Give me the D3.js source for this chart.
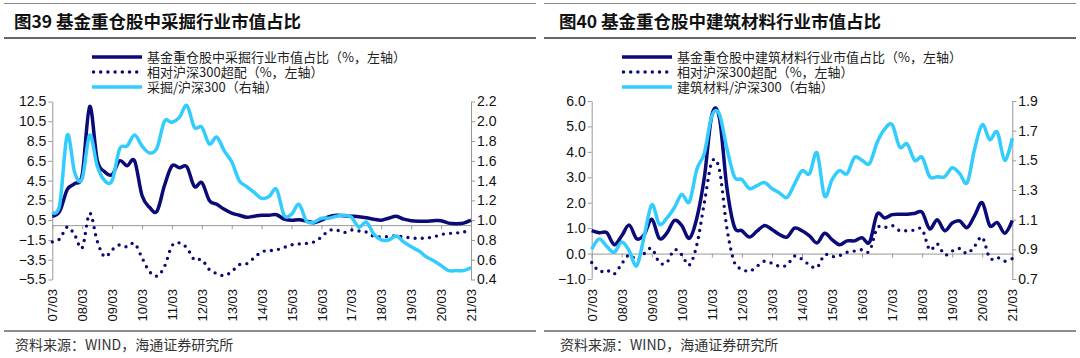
<!DOCTYPE html>
<html><head><meta charset="utf-8">
<script src="https://cdn.jsdelivr.net/npm/d3@7/dist/d3.min.js"></script>
<style>
body{margin:0;background:#fff;}
svg{display:block;}
</style></head>
<body><svg id="c" width="1080" height="358"></svg>
<script>
// ---- data ----
const quarters = ["07/03","07/06","07/09","07/12","08/03","08/06","08/09","08/12","09/03","09/06","09/09","09/12",
"10/03","10/06","10/09","10/12","11/03","11/06","11/09","11/12","12/03","12/06","12/09","12/12",
"13/03","13/06","13/09","13/12","14/03","14/06","14/09","14/12","15/03","15/06","15/09","15/12",
"16/03","16/06","16/09","16/12","17/03","17/06","17/09","17/12","18/03","18/06","18/09","18/12",
"19/03","19/06","19/09","19/12","20/03","20/06","20/09","20/12","21/03"];
const yearTicks = ["07/03","08/03","09/03","10/03","11/03","12/03","13/03","14/03","15/03","16/03","17/03","18/03","19/03","20/03","21/03"];

// Chart 39: mining
const miningShare = [0.9,1.4,3.6,4.2,5.1,12.0,6.6,5.4,5.1,6.5,6.0,6.5,3.0,1.8,1.4,4.0,6.0,5.8,5.9,3.9,4.3,2.5,2.1,1.6,
1.2,1.0,0.8,0.9,1.0,1.0,1.05,0.6,0.5,0.55,0.4,0.25,0.5,0.85,1.0,0.95,0.9,0.85,0.75,0.6,0.5,0.7,0.9,0.6,
0.45,0.4,0.4,0.45,0.45,0.2,0.15,0.2,0.5];
const miningOver = [-1.7,-1.4,-0.2,-1.0,-2.3,1.2,-1.6,-3.2,-2.5,-2.0,-2.2,-1.85,-3.3,-4.7,-5.15,-4.2,-2.1,-1.8,-2.3,-3.5,-3.5,-4.5,-4.9,-5.1,
-4.7,-4.0,-3.9,-3.3,-2.7,-2.6,-2.5,-2.25,-2.0,-1.9,-1.85,-1.7,-1.2,-0.55,-0.5,-0.75,-0.5,-0.6,-0.7,-1.15,-1.2,-1.15,-1.1,-1.2,
-1.3,-1.35,-1.3,-1.2,-0.95,-0.85,-0.8,-0.7,-0.45];
const miningRel = [1.08,1.16,1.86,1.48,1.42,1.86,1.55,1.40,1.40,1.72,1.75,1.86,1.75,1.68,1.73,2.00,1.99,2.04,2.16,1.94,1.94,1.77,1.84,1.70,
1.59,1.40,1.34,1.28,1.22,1.24,1.31,1.05,1.06,1.16,0.99,0.98,1.02,1.02,1.04,1.05,1.03,0.93,0.98,0.86,0.80,0.80,0.84,0.78,
0.73,0.69,0.63,0.59,0.54,0.49,0.49,0.49,0.52];

// Chart 40: building materials
const buildShare = [0.9,0.82,0.82,0.35,0.7,1.12,0.58,0.75,1.35,0.6,0.8,1.3,1.1,0.6,1.4,3.0,5.45,5.35,2.6,1.05,0.9,0.65,0.88,1.1,
0.95,0.75,0.65,1.0,0.9,0.7,0.42,0.8,0.55,0.35,0.5,0.5,0.62,0.45,1.55,1.4,1.53,1.55,1.55,1.58,1.62,0.97,1.33,0.9,
1.2,1.28,1.02,1.5,2.0,1.1,1.22,0.8,1.3];
const buildOver = [-0.35,-0.7,-0.65,-0.8,-0.4,-0.05,-0.25,0.0,0.2,-0.35,-0.35,0.15,-0.05,-0.45,0.35,2.0,3.6,3.3,1.0,-0.35,-0.6,-0.7,-0.5,-0.3,
-0.38,-0.5,-0.45,-0.1,-0.22,-0.45,-0.55,-0.05,-0.12,-0.08,0.05,0.1,0.15,0.1,1.0,1.02,1.1,0.9,0.9,0.92,0.95,0.15,0.38,-0.05,
0.1,0.2,0.0,0.3,0.64,-0.18,-0.15,-0.3,-0.2];
const buildRel = [0.90,0.97,0.92,0.88,0.95,0.89,0.79,0.99,1.20,1.07,1.11,1.18,1.27,1.22,1.44,1.55,1.80,1.81,1.58,1.39,1.37,1.31,1.33,1.35,
1.31,1.28,1.25,1.34,1.43,1.41,1.55,1.26,1.37,1.43,1.41,1.52,1.50,1.48,1.62,1.71,1.74,1.59,1.61,1.50,1.52,1.39,1.39,1.39,
1.45,1.41,1.35,1.58,1.74,1.64,1.69,1.50,1.65];

const ticksL39 = [-5.5,-3.5,-1.5,0.5,2.5,4.5,6.5,8.5,10.5,12.5];
const ticksR39 = [0.4,0.6,0.8,1.0,1.2,1.4,1.6,1.8,2.0,2.2];
const ticksL40 = [-1,0,1,2,3,4,5,6];
const ticksR40 = [0.7,0.9,1.1,1.3,1.5,1.7,1.9];

const titles = ["图39 基金重仓股中采掘行业市值占比","图40 基金重仓股中建筑材料行业市值占比"];
const legend39 = ["基金重仓股中采掘行业市值占比（%，左轴）","相对沪深300超配（%，左轴）","采掘/沪深300（右轴）"];
const legend40 = ["基金重仓股中建筑材料行业市值占比（%，左轴）","相对沪深300超配（%，左轴）","建筑材料/沪深300（右轴）"];
const source = "资料来源：WIND，海通证券研究所";

// ---- drawing ----
const svg = d3.select("#c");
const NAVY = "#0a0a78", CYAN = "#33ccff", AXIS = "#999";
const CJK = "'Noto Sans CJK SC','Noto Sans',sans-serif";
const NUM = "'Liberation Sans',Arial,sans-serif";

function panel(o){
  const g = svg.append("g");
  // header lines
  g.append("line").attr("x1",o.px0).attr("x2",o.px1).attr("y1",3.5).attr("y2",3.5).attr("stroke","#888").attr("stroke-width",1);
  g.append("line").attr("x1",o.px0).attr("x2",o.px1).attr("y1",38).attr("y2",38).attr("stroke","#333").attr("stroke-width",1.5);
  g.append("line").attr("x1",o.px0).attr("x2",o.px1).attr("y1",331).attr("y2",331).attr("stroke","#666").attr("stroke-width",1.5);
  g.append("text").attr("x",o.tx).attr("y",28).attr("font-family",CJK).attr("font-weight","bold")
    .attr("font-size",17.5).attr("fill","#111").text(o.title);
  g.append("text").attr("x",o.sx).attr("y",350).attr("font-family",CJK)
    .attr("font-size",14).attr("fill","#333").text(source);

  const x = d3.scalePoint().domain(quarters).range([o.x0,o.x1]);
  const yL = d3.scaleLinear().domain(o.domL).range([o.yb,o.yt]);
  const yR = d3.scaleLinear().domain(o.domR).range([o.yb,o.yt]);

  // axes
  const aL = g.append("g").attr("transform",`translate(${o.x0},0)`)
    .call(d3.axisLeft(yL).tickValues(o.tL).tickFormat(d3.format(".1f")).tickSize(4).tickSizeOuter(0));
  const aR = g.append("g").attr("transform",`translate(${o.x1},0)`)
    .call(d3.axisRight(yR).tickValues(o.tR).tickFormat(d3.format(".1f")).tickSize(4).tickSizeOuter(0));
  const y0 = yL(0);
  const aX = g.append("g").attr("transform",`translate(0,${y0})`)
    .call(d3.axisBottom(x).tickValues(yearTicks).tickSize(4).tickSizeOuter(0));
  [aL,aR,aX].forEach(a=>{
    a.select(".domain").attr("stroke",AXIS);
    a.selectAll(".tick line").attr("stroke",AXIS);
    a.selectAll("text").attr("fill","#111").attr("font-family",NUM);
  });
  aL.selectAll("text").attr("font-size",14).attr("x",-6);
  aR.selectAll("text").attr("font-size",14).attr("x",6);
  aX.selectAll("text").attr("font-size",13).attr("text-anchor","end")
    .attr("x",0).attr("y",0).attr("dy","0.35em")
    .attr("transform",`translate(0,${o.labY - y0}) rotate(-90)`);

  const curve = d3.curveCardinal.tension(0);
  const lineL = d3.line().x((d,i)=>x(quarters[i])).y(d=>yL(d)).curve(curve);
  const lineR = d3.line().x((d,i)=>x(quarters[i])).y(d=>yR(d)).curve(curve);
  g.append("path").attr("d",lineL(o.share)).attr("fill","none").attr("stroke",NAVY).attr("stroke-width",3.5).attr("stroke-linejoin","round");
  g.append("path").attr("d",lineL(o.over)).attr("fill","none").attr("stroke",NAVY).attr("stroke-width",3.4)
    .attr("stroke-dasharray","0,7.2").attr("stroke-linecap","round");
  g.append("path").attr("d",lineR(o.rel)).attr("fill","none").attr("stroke",CYAN).attr("stroke-width",3.5).attr("stroke-linejoin","round");

  // legend
  const rows = [57,72,87];
  const styles = [{c:NAVY,d:null},{c:NAVY,d:"0,7.2"},{c:CYAN,d:null}];
  o.legend.forEach((t,i)=>{
    const l = g.append("line").attr("x1",o.lx).attr("x2",o.lx+50).attr("y1",rows[i]).attr("y2",rows[i])
      .attr("stroke",styles[i].c).attr("stroke-width",3.5);
    if(styles[i].d) l.attr("stroke-dasharray",styles[i].d).attr("stroke-linecap","round").attr("x1",o.lx+1.5);
    g.append("text").attr("x",o.lx+55).attr("y",rows[i]).attr("dy","0.36em").attr("font-family",CJK)
      .attr("font-size",13).attr("fill","#222").text(t);
  });
}

panel({px0:4,px1:536,tx:14,sx:15,title:titles[0],x0:52.3,x1:471,yt:101.5,yb:279.5,domL:[-5.5,12.5],domR:[0.4,2.2],
  tL:ticksL39,tR:ticksR39,labY:289,share:miningShare,over:miningOver,rel:miningRel,legend:legend39,lx:92});
panel({px0:544,px1:1076,tx:559,sx:560,title:titles[1],x0:591.7,x1:1012.3,yt:101,yb:279,domL:[-1,6],domR:[0.7,1.9],
  tL:ticksL40,tR:ticksR40,labY:289,share:buildShare,over:buildOver,rel:buildRel,legend:legend40,lx:622});
</script></body></html>
